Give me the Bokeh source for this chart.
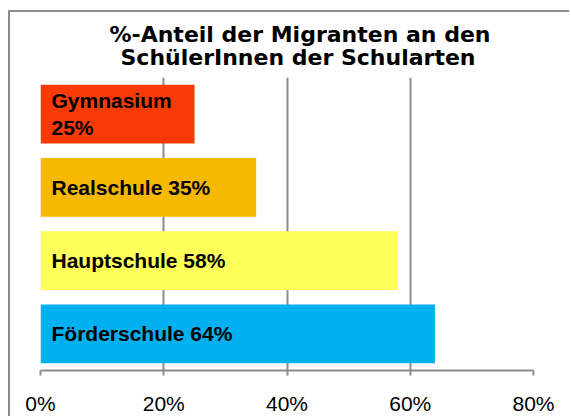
from bokeh.plotting import figure
from bokeh.models import (Range1d, FactorRange, FixedTicker, PrintfTickFormatter,
                          ColumnDataSource, Title)
from bokeh.core.properties import value
from bokeh.embed import file_html
from bokeh.resources import INLINE

schools = ["Gymnasium", "Realschule", "Hauptschule", "Förderschule"]
shares = [25, 35, 58, 64]
labels = ["Gymnasium\n25%", "Realschule 35%", "Hauptschule 58%", "Förderschule 64%"]
colors = ["#F73A06", "#F7B900", "#FFFF5A", "#00B0F0"]
x_ticks = [0, 20, 40, 60, 80]
title_lines = ["%-Anteil der Migranten an den", "SchülerInnen der Schularten"]

src = ColumnDataSource(dict(school=schools, share=shares, label=labels,
                            color=colors, zero=[0] * len(schools)))

grey = "#8c8c8c"

p = figure(width=561, height=406, title=None,
           y_range=FactorRange(*reversed(schools)),
           x_range=Range1d(x_ticks[0], x_ticks[-1]),
           output_backend="svg", toolbar_location=None,
           min_border_left=30, min_border_right=38,
           min_border_top=65, min_border_bottom=48)

# chart-area border (top and left edges visible in the window)
p.styles = {"margin-left": "8px", "margin-top": "10px",
            "border-left": f"2px solid {grey}", "border-top": f"2px solid {grey}"}

title_offsets = [69, 80]
title_standoffs = [-22, 15]
for line, off, so in reversed(list(zip(title_lines, title_offsets, title_standoffs))):
    p.add_layout(Title(text=line, align="left", offset=off, standoff=so,
                       text_font="DejaVu Sans", text_font_style="bold",
                       text_font_size="22px", text_color="#000000"), "above")

p.hbar(y="school", left="zero", right="share", height=0.8,
       fill_color="color", line_color=None, source=src)

p.text(x="zero", y="school", text="label", x_offset=11,
       text_align="left", text_baseline="middle",
       text_font=value("Liberation Sans"), text_font_style="bold",
       text_font_size="21px", text_line_height=1.2, text_color="#000000",
       source=src)

p.yaxis.visible = False
p.ygrid.grid_line_color = None
p.xgrid.grid_line_color = grey
p.xgrid.grid_line_width = 2
p.xaxis.ticker = FixedTicker(ticks=x_ticks)
p.xaxis.formatter = PrintfTickFormatter(format="%d%%")
p.xaxis.axis_line_color = grey
p.xaxis.axis_line_width = 2
p.xaxis.major_tick_line_color = grey
p.xaxis.major_tick_line_width = 2
p.xaxis.major_tick_out = 5
p.xaxis.major_tick_in = 0
p.xaxis.minor_tick_line_color = None
p.xaxis.major_label_text_font = "Liberation Sans"
p.xaxis.major_label_text_font_size = "21px"
p.xaxis.major_label_text_color = "#000000"
p.xaxis.major_label_standoff = 16
p.outline_line_color = None

open("out.html", "w").write(file_html(p, INLINE))
